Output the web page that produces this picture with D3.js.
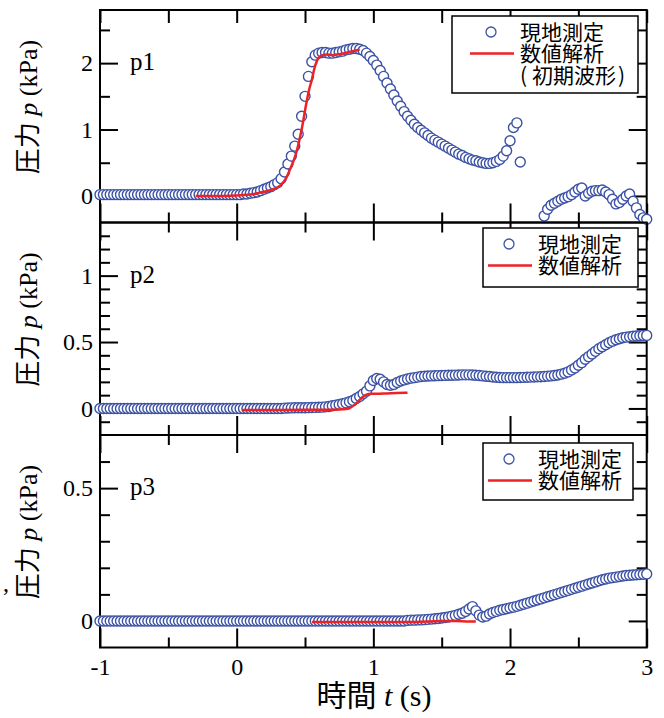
<!DOCTYPE html>
<html>
<head>
<meta charset="utf-8">
<script src="https://cdn.jsdelivr.net/npm/d3@7"></script>
<style>
    body { margin: 0; background: #fff; }
</style>
</head>
<body>
<div id="chart"></div>
<script>
// field record is sampled every 0.025 s starting at t = -1 s
const sampleStart = -1;
const sampleStep = 0.025;

// 現地測定 p1 (kPa), one row = 0.25 s
const p1Measured = [
    0.02, 0.02, 0.02, 0.02, 0.02, 0.02, 0.02, 0.02, 0.02, 0.02,
    0.02, 0.02, 0.02, 0.02, 0.02, 0.02, 0.02, 0.02, 0.02, 0.02,
    0.02, 0.02, 0.02, 0.02, 0.02, 0.02, 0.02, 0.02, 0.02, 0.02,
    0.02, 0.02, 0.02, 0.02, 0.02, 0.02, 0.02, 0.02, 0.02, 0.02,
    0.02, 0.02, 0.03, 0.03, 0.04, 0.05, 0.06, 0.08, 0.10, 0.12,
    0.14, 0.17, 0.20, 0.26, 0.36, 0.48, 0.60, 0.75, 0.93, 1.20,
    1.50, 1.80, 2.02, 2.12, 2.15, 2.16, 2.16, 2.15, 2.15, 2.16,
    2.17, 2.18, 2.20, 2.21, 2.22, 2.22, 2.21, 2.19, 2.15, 2.10,
    2.04, 1.97, 1.89, 1.80, 1.70, 1.61, 1.52, 1.43, 1.35, 1.27,
    1.20, 1.14, 1.08, 1.03, 0.99, 0.95, 0.91, 0.87, 0.84, 0.81,
    0.78, 0.75, 0.72, 0.69, 0.66, 0.63, 0.61, 0.58, 0.56, 0.54,
    0.53, 0.51, 0.50, 0.49, 0.49, 0.50, 0.52, 0.55, 0.60, 0.68,
    0.83, 1.03, 1.10, 0.51, null, null, null, null, null, null,
    -0.30, -0.20, -0.14, -0.11, -0.08, -0.05, -0.03, -0.01, 0.02, 0.06,
    0.10, 0.12, 0.00, 0.04, 0.07, 0.08, 0.08, 0.09, 0.06, 0.02,
    -0.05, -0.12, -0.10, -0.05, 0.00, 0.03, -0.08, -0.18, -0.28, -0.33,
    -0.35
];

const p2Measured = [
    0, 0, 0, 0, 0, 0, 0, 0, 0, 0,
    0, 0, 0, 0, 0, 0, 0, 0, 0, 0,
    0, 0, 0, 0, 0, 0, 0, 0, 0, 0,
    0, 0, 0, 0, 0, 0, 0, 0, 0, 0,
    0, 0, 0, 0, 0, 0, 0, 0, 0, 0,
    0, 0, 0, 0, 0.002, 0.003, 0.004, 0.005, 0.005, 0.005,
    0.005, 0.006, 0.007, 0.008, 0.009, 0.01, 0.012, 0.015, 0.02, 0.025,
    0.03, 0.035, 0.042, 0.05, 0.06, 0.075, 0.09, 0.11, 0.13, 0.17,
    0.21, 0.225, 0.22, 0.2, 0.18, 0.175, 0.18, 0.195, 0.207, 0.215,
    0.222, 0.228, 0.232, 0.236, 0.24, 0.242, 0.244, 0.245, 0.246, 0.247,
    0.248, 0.249, 0.25, 0.25, 0.251, 0.252, 0.253, 0.253, 0.253, 0.252,
    0.25, 0.248, 0.245, 0.242, 0.24, 0.237, 0.235, 0.233, 0.232, 0.232,
    0.232, 0.232, 0.232, 0.233, 0.234, 0.235, 0.236, 0.237, 0.238, 0.239,
    0.241, 0.243, 0.245, 0.248, 0.252, 0.258, 0.265, 0.275, 0.29, 0.305,
    0.325, 0.345, 0.37, 0.39, 0.41, 0.43, 0.45, 0.465, 0.48, 0.495,
    0.507, 0.517, 0.525, 0.532, 0.537, 0.54, 0.543, 0.545, 0.547, 0.55,
    0.55
];

const p3Measured = [
    0, 0, 0, 0, 0, 0, 0, 0, 0, 0,
    0, 0, 0, 0, 0, 0, 0, 0, 0, 0,
    0, 0, 0, 0, 0, 0, 0, 0, 0, 0,
    0, 0, 0, 0, 0, 0, 0, 0, 0, 0,
    0, 0, 0, 0, 0, 0, 0, 0, 0, 0,
    0, 0, 0, 0, 0, 0, 0, 0, 0, 0,
    0, 0, 0, 0, 0, 0, 0, 0, 0, 0,
    0, 0, 0, 0, 0, 0, 0, 0, 0, 0,
    0, 0, 0, 0, 0, 0, 0, 0, 0, 0,
    0.002, 0.003, 0.003, 0.004, 0.004, 0.005, 0.006, 0.007, 0.008, 0.009,
    0.011, 0.013, 0.015, 0.018, 0.021, 0.025, 0.029, 0.036, 0.045, 0.054,
    0.038, 0.022, 0.015, 0.018, 0.026, 0.032, 0.036, 0.04, 0.043, 0.046,
    0.049, 0.052, 0.055, 0.059, 0.063, 0.067, 0.071, 0.075, 0.079, 0.083,
    0.087, 0.091, 0.095, 0.099, 0.103, 0.107, 0.111, 0.115, 0.119, 0.123,
    0.127, 0.131, 0.135, 0.139, 0.143, 0.147, 0.151, 0.155, 0.158, 0.161,
    0.163, 0.165, 0.167, 0.169, 0.171, 0.172, 0.173, 0.174, 0.175, 0.176,
    0.177
];

// 数値解析 curves
const p1NumTime  = [-0.3, -0.1, 0.1, 0.17, 0.25, 0.32, 0.36, 0.39, 0.42, 0.44, 0.46, 0.48, 0.51,
                    0.53, 0.55, 0.57, 0.6, 0.63, 0.66, 0.7, 0.73, 0.77, 0.81, 0.85, 0.9];
const p1NumValue = [0, 0, 0.02, 0.05, 0.09, 0.16, 0.26, 0.4, 0.55, 0.68, 0.85, 1.05, 1.4,
                    1.6, 1.75, 1.93, 2.08, 2.12, 2.13, 2.12, 2.13, 2.14, 2.16, 2.18, 2.2];
const p2NumTime  = [0.04, 0.3, 0.6, 0.75, 0.8, 0.83, 0.86, 0.89, 0.92, 0.95, 0.98, 1.02, 1.1, 1.17, 1.25];
const p2NumValue = [-0.012, -0.012, -0.01, -0.008, -0.005, 0.005, 0.025, 0.055, 0.085, 0.104,
                    0.11, 0.11, 0.113, 0.116, 0.118];
const p3NumTime  = [0.55, 0.8, 1.0, 1.2, 1.4, 1.5, 1.6, 1.7, 1.75];
const p3NumValue = [-0.004, -0.004, -0.004, -0.004, -0.002, 0.0, 0.0, -0.002, -0.002];

// axes
const xDomain = [-1, 3];
const xTickValues = [-1, -0.5, 0, 0.5, 1, 1.5, 2, 2.5, 3];
const xLabelValues = [-1, 0, 1, 2, 3];
const panelNames = ['p1', 'p2', 'p3'];
const yDomains = [[-0.4, 2.8], [-0.2, 1.4], [-0.1, 0.7]];
const yTickValues = [
    [0, 0.5, 1, 1.5, 2, 2.5],
    [-0.1, 0, 0.1, 0.2, 0.3, 0.4, 0.5, 0.6, 0.7, 0.8, 0.9, 1, 1.1, 1.2, 1.3],
    [0, 0.1, 0.2, 0.3, 0.4, 0.5, 0.6]
];
const yLabelValues = [[0, 1, 2], [0, 0.5, 1], [0, 0.5]];
const legendLabels = [
    ['現地測定', '数値解析', '初期波形'],
    ['現地測定', '数値解析'],
    ['現地測定', '数値解析']
];
const yTitle = ['圧力', 'p', '(kPa)'];
const xTitle = ['時間', 't', '(s)'];

const serif = 'Liberation Serif, Times New Roman, serif';
const cjk = 'Noto Sans CJK JP, Noto Sans CJK SC, sans-serif';
const blue = '#3c52a5';
const red = '#ec2227';

const width = 664, height = 718;
const left = 100, right = 646.7;
const panelTop = 10, panelHeight = 212.5;

const measured = [p1Measured, p2Measured, p3Measured];
const numerical = [
    p1NumTime.map((t, k) => ({ t, p: p1NumValue[k] })),
    p2NumTime.map((t, k) => ({ t, p: p2NumValue[k] })),
    p3NumTime.map((t, k) => ({ t, p: p3NumValue[k] }))
];

const svg = d3.select('#chart')
    .append('svg')
    .attr('width', width)
    .attr('height', height);

svg.append('rect').attr('width', width).attr('height', height).attr('fill', '#fff');

const x = d3.scaleLinear().domain(xDomain).range([left, right]);

function styleAxis(sel) {
    sel.attr('font-family', null).attr('font-size', null);
    sel.select('.domain').remove();
    sel.selectAll('line').attr('stroke', '#000').attr('stroke-width', 2);
    sel.selectAll('text')
        .attr('fill', '#000')
        .style('font-family', serif)
        .style('font-size', '24px');
}

const legendBoxes = [
    { x: 452, y: 16, w: 186, h: 77, sx: 470, tx: 520 },
    { x: 483, y: 228, w: 155, h: 59, sx: 488, tx: 538 },
    { x: 483, y: 443, w: 150, h: 57, sx: 488, tx: 538 }
];

panelNames.forEach((name, i) => {
    const top = panelTop + i * panelHeight;
    const bottom = top + panelHeight;
    const y = d3.scaleLinear().domain(yDomains[i]).range([bottom, top]);
    const g = svg.append('g');

    const xMinor = xTickValues.filter(v => !xLabelValues.includes(v));
    const yMinor = yTickValues[i].filter(v => !yLabelValues[i].includes(v));
    const topMajor = i === 0 ? 13 : 18;
    const topMinor = i === 0 ? 13 : 10;

    // x ticks, bottom edge (labels only on the lowest panel)
    g.append('g')
        .attr('transform', `translate(0,${bottom})`)
        .call(d3.axisBottom(x).tickValues(xLabelValues).tickSizeInner(-19).tickSizeOuter(0)
            .tickPadding(10).tickFormat(i === 2 ? d => String(d) : () => ''))
        .call(styleAxis);
    g.append('g')
        .attr('transform', `translate(0,${bottom})`)
        .call(d3.axisBottom(x).tickValues(xMinor).tickSizeInner(-10).tickSizeOuter(0).tickFormat(() => ''))
        .call(styleAxis);
    // x ticks, top edge
    g.append('g')
        .attr('transform', `translate(0,${top})`)
        .call(d3.axisTop(x).tickValues(xLabelValues).tickSizeInner(-topMajor).tickSizeOuter(0).tickFormat(() => ''))
        .call(styleAxis);
    g.append('g')
        .attr('transform', `translate(0,${top})`)
        .call(d3.axisTop(x).tickValues(xMinor).tickSizeInner(-topMinor).tickSizeOuter(0).tickFormat(() => ''))
        .call(styleAxis);

    // y ticks, left with labels, right without
    g.append('g')
        .attr('transform', `translate(${left},0)`)
        .call(d3.axisLeft(y).tickValues(yLabelValues[i]).tickSizeInner(-18).tickSizeOuter(0)
            .tickPadding(7).tickFormat(d => String(d)))
        .call(styleAxis);
    g.append('g')
        .attr('transform', `translate(${left},0)`)
        .call(d3.axisLeft(y).tickValues(yMinor).tickSizeInner(-10).tickSizeOuter(0).tickFormat(() => ''))
        .call(styleAxis);
    g.append('g')
        .attr('transform', `translate(${right},0)`)
        .call(d3.axisRight(y).tickValues(yLabelValues[i]).tickSizeInner(-18).tickSizeOuter(0).tickFormat(() => ''))
        .call(styleAxis);
    g.append('g')
        .attr('transform', `translate(${right},0)`)
        .call(d3.axisRight(y).tickValues(yMinor).tickSizeInner(-10).tickSizeOuter(0).tickFormat(() => ''))
        .call(styleAxis);

    // frame
    g.append('rect')
        .attr('x', left).attr('y', top)
        .attr('width', right - left).attr('height', panelHeight)
        .attr('fill', 'none')
        .attr('stroke', '#000')
        .attr('stroke-width', 2);

    // measured points
    const points = measured[i]
        .map((p, k) => ({ t: sampleStart + k * sampleStep, p }))
        .filter(d => d.p !== null);

    g.append('g')
        .selectAll('circle')
        .data(points)
        .join('circle')
        .attr('cx', d => x(d.t))
        .attr('cy', d => y(d.p))
        .attr('r', 5)
        .attr('fill', '#fff')
        .attr('stroke', blue)
        .attr('stroke-width', 1.4);

    // numerical result
    const line = d3.line()
        .x(d => x(d.t))
        .y(d => y(d.p))
        .curve(d3.curveMonotoneX);

    g.append('path')
        .datum(numerical[i])
        .attr('d', line)
        .attr('fill', 'none')
        .attr('stroke', red)
        .attr('stroke-width', 2.5);

    // panel name
    g.append('text')
        .attr('x', 130)
        .attr('y', top + 60)
        .style('font-family', serif)
        .style('font-size', '25px')
        .text(name);

    // y title
    const yt = g.append('text')
        .attr('transform', `translate(37,${top + 97}) rotate(-90)`)
        .attr('text-anchor', 'middle')
        .style('font-size', '26px')
        .style('font-family', serif);
    yt.append('tspan').style('font-family', cjk).text(yTitle[0]);
    yt.append('tspan').style('font-style', 'italic').text(' ' + yTitle[1]);
    yt.append('tspan').text(' ' + yTitle[2]);

    // legend
    const lb = legendBoxes[i];
    const lg = g.append('g');
    lg.append('rect')
        .attr('x', lb.x).attr('y', lb.y)
        .attr('width', lb.w).attr('height', lb.h)
        .attr('fill', '#fff')
        .attr('stroke', '#000')
        .attr('stroke-width', 1.5);
    const rowY = k => lb.y + 16 + k * 21.5;
    lg.append('circle')
        .attr('cx', lb.sx + 21).attr('cy', rowY(0))
        .attr('r', 5)
        .attr('fill', '#fff')
        .attr('stroke', blue)
        .attr('stroke-width', 1.3);
    lg.append('line')
        .attr('x1', lb.sx).attr('x2', lb.sx + 44)
        .attr('y1', rowY(1)).attr('y2', rowY(1))
        .attr('stroke', red)
        .attr('stroke-width', 2.5);
    legendLabels[i].forEach((label, k) => {
        const txt = lg.append('text')
            .attr('x', lb.tx)
            .attr('y', rowY(k) + 7.5)
            .style('font-family', cjk)
            .style('font-size', '21px')
            .attr('fill', '#000');
        if (k === 2) {
            txt.append('tspan').text('(');
            txt.append('tspan').attr('x', lb.tx + 12).text(label);
            txt.append('tspan').attr('dx', 2).text(')');
        } else {
            txt.text(label);
        }
    });
});

// x title
const xt = svg.append('text')
    .attr('x', 374)
    .attr('y', 706)
    .attr('text-anchor', 'middle')
    .style('font-size', '30px')
    .style('font-family', serif);
xt.append('tspan').style('font-family', cjk).text(xTitle[0]);
xt.append('tspan').style('font-style', 'italic').text(' ' + xTitle[1]);
xt.append('tspan').text(' ' + xTitle[2]);

// stray mark at the left edge of the lower panel
svg.append('text')
    .attr('x', 3)
    .attr('y', 591)
    .style('font-family', serif)
    .style('font-size', '24px')
    .text(',');
</script>
</body>
</html>
